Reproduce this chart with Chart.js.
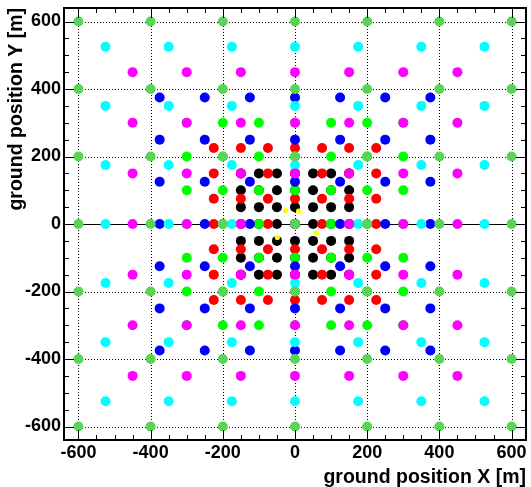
<!DOCTYPE html>
<html>
<head>
<meta charset="utf-8">
<script src="https://cdn.jsdelivr.net/npm/chart.js@4.4.1/dist/chart.umd.min.js"></script>
<style>
  html, body { margin: 0; padding: 0; background: #fff; }
  #wrap { width: 531px; height: 487px; }
</style>
</head>
<body>
<div id="wrap"><canvas id="c"></canvas></div>
<script>
// station positions for each ring [m]; each ring is a square grid, same values on X and Y
const blackPos   = [-150, -100, -50, 0, 50, 100, 150];
const redPos     = [-225, -150, -75, 0, 75, 150, 225];
const greenPos   = [-300, -200, -100, 0, 100, 200, 300];
const bluePos    = [-375, -250, -125, 0, 125, 250, 375];
const cyanPos    = [-525, -350, -175, 0, 175, 350, 525];
const magentaPos = [-450, -300, -150, 0, 150, 300, 450];
const olivePos   = [-600, -400, -200, 0, 200, 400, 600];

// small yellow markers near the centre
const yellowX = [-26, 10, -49, 59];
const yellowY = [40, 38, -40, -27];

// labelled ticks and the minor tick step
const tickValues = [-600, -400, -200, 0, 200, 400, 600];
const minorStep = 50;
const axisMin = -640, axisMax = 640;

const grid = pos => pos.flatMap(yv => pos.map(xv => ({ x: xv, y: yv })));
const yellowPts = yellowX.map((xv, i) => ({ x: xv, y: yellowY[i] }));

const FONT = 'Liberation Sans, Arial, Helvetica, sans-serif';

// ROOT style frame: dotted grid, solid y=0 line, ticks inside on all four sides
const rootFrame = {
	id: 'rootFrame',
	beforeDatasetsDraw( chart ) {
		const { ctx, chartArea: a, scales: { x, y } } = chart;
		ctx.save();
		ctx.strokeStyle = '#000';
		ctx.lineWidth = 1;
		ctx.setLineDash( [1, 2] );
		tickValues.forEach( v => {
			const px = Math.round( x.getPixelForValue( v ) ) + 0.5;
			const py = Math.round( y.getPixelForValue( v ) ) + 0.5;
			ctx.beginPath();
			ctx.moveTo( px, a.top ); ctx.lineTo( px, a.bottom );
			ctx.moveTo( a.left, py ); ctx.lineTo( a.right, py );
			ctx.stroke();
		} );
		ctx.setLineDash( [] );
		const y0 = Math.round( y.getPixelForValue( 0 ) ) + 0.5;
		ctx.beginPath();
		ctx.moveTo( a.left, y0 ); ctx.lineTo( a.right, y0 );
		ctx.stroke();
		ctx.restore();
	},
	afterDatasetsDraw( chart ) {
		const { ctx, chartArea: a, scales: { x, y } } = chart;
		ctx.save();
		ctx.strokeStyle = '#000';
		ctx.lineWidth = 1;
		ctx.beginPath();
		for ( let v = tickValues[0]; v <= tickValues[tickValues.length - 1]; v += minorStep ) {
			const len = tickValues.includes( v ) ? 10 : 5;
			const px = Math.round( x.getPixelForValue( v ) ) + 0.5;
			const py = Math.round( y.getPixelForValue( v ) ) + 0.5;
			ctx.moveTo( px, a.bottom ); ctx.lineTo( px, a.bottom - len );
			ctx.moveTo( px, a.top ); ctx.lineTo( px, a.top + len );
			ctx.moveTo( a.left, py ); ctx.lineTo( a.left + len, py );
			ctx.moveTo( a.right, py ); ctx.lineTo( a.right - len, py );
		}
		ctx.stroke();
		ctx.lineWidth = 2;
		ctx.strokeRect( a.left, a.top, a.right - a.left, a.bottom - a.top );
		ctx.restore();
	}
};

const ticksFont = { family: FONT, weight: 'bold', size: 18 };
const titleFont = { family: FONT, weight: 'bold', size: 19.5, lineHeight: 1 };

const layer = ( label, data, color, r ) => ( {
	label, data,
	backgroundColor: color,
	borderWidth: 0,
	pointRadius: r,
	pointHoverRadius: r
} );

new Chart( document.getElementById( 'c' ), {
	type: 'scatter',
	data: {
		// first dataset is drawn on top
		datasets: [
			layer( 'yellow', yellowPts, '#ffff00', 2.6 ),
			layer( 'ring 200', grid( olivePos ), '#59d454', 5 ),
			layer( 'ring 150', grid( magentaPos ), '#ff00ff', 5 ),
			layer( 'ring 175', grid( cyanPos ), '#00ffff', 5 ),
			layer( 'ring 125', grid( bluePos ), '#0000ff', 5 ),
			layer( 'ring 100', grid( greenPos ), '#00ff00', 5 ),
			layer( 'ring 75', grid( redPos ), '#ff0000', 5 ),
			layer( 'ring 50', grid( blackPos ), '#000000', 5 )
		]
	},
	options: {
		responsive: true,
		maintainAspectRatio: false,
		animation: false,
		events: [],
		layout: { padding: { top: 8, right: 3, bottom: 0, left: 0 } },
		plugins: { legend: { display: false }, tooltip: { enabled: false } },
		scales: {
			x: {
				type: 'linear', min: axisMin, max: axisMax,
				afterBuildTicks: s => { s.ticks = tickValues.map( v => ( { value: v } ) ); },
				afterFit: s => { s.height = 47; s.paddingLeft = 0; s.paddingRight = 0; },
				ticks: { font: ticksFont, color: '#000', padding: 2, maxRotation: 0, autoSkip: false },
				grid: { display: false, drawTicks: false },
				border: { display: false },
				title: { display: true, text: 'ground position X [m]', align: 'end', color: '#000', font: titleFont, padding: { top: 0, bottom: 0 } }
			},
			y: {
				type: 'linear', min: axisMin, max: axisMax,
				afterBuildTicks: s => { s.ticks = tickValues.map( v => ( { value: v } ) ); },
				afterFit: s => { s.width = 64; s.paddingTop = 0; s.paddingBottom = 0; },
				ticks: { font: ticksFont, color: '#000', padding: 3, autoSkip: false },
				grid: { display: false, drawTicks: false },
				border: { display: false },
				title: { display: true, text: 'ground position Y [m]', align: 'end', color: '#000', font: titleFont, padding: { top: 7, bottom: 0 } }
			}
		}
	},
	plugins: [rootFrame]
} );
</script>
</body>
</html>
